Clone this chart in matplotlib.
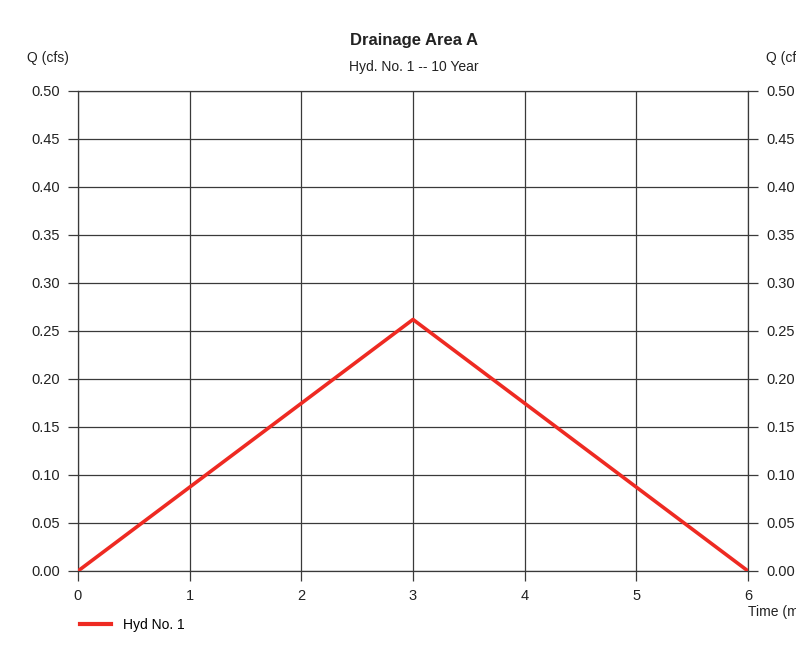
import matplotlib
matplotlib.use('Agg')
import matplotlib.pyplot as plt
from matplotlib.lines import Line2D

# hydrograph data
time_min = [0, 3, 6]
q_cfs = [0.0, 0.262, 0.0]
x_ticks = [0, 1, 2, 3, 4, 5, 6]
y_ticks = [0.00, 0.05, 0.10, 0.15, 0.20, 0.25, 0.30, 0.35, 0.40, 0.45, 0.50]

plt.rcParams['font.family'] = ['Liberation Sans', 'DejaVu Sans']

def main():
    fig = plt.figure(figsize=(7.96, 6.46), dpi=100)
    ax = fig.add_axes([78 / 796, 75 / 646, 670 / 796, 480 / 646])

    ax.plot(time_min, q_cfs, color='#ee2a22', lw=2.6, solid_capstyle='round', zorder=5)

    ax.set_xlim(0, 6)
    ax.set_ylim(0, 0.5)
    ax.set_xticks(x_ticks)
    ax.set_yticks(y_ticks)
    ax.set_yticklabels([f'{v:.2f}' for v in y_ticks])
    ax.grid(True, color='#3a3a3a', lw=0.9)
    ax.tick_params(axis='both', length=7, width=0.9, color='#3a3a3a', labelsize=10.5, labelcolor='#222222')
    ax.tick_params(axis='y', right=True, labelright=True, pad=6)
    ax.tick_params(axis='x', pad=6)
    for s in ax.spines.values():
        s.set_color('#3a3a3a')
        s.set_linewidth(0.9)

    #titles and axis labels
    fig.text(0.52, 1 - 41 / 646, 'Drainage Area A', ha='center', va='center', fontsize=12, fontweight='bold', color='#222222')
    fig.text(0.52, 1 - 67 / 646, 'Hyd. No. 1 -- 10 Year', ha='center', va='center', fontsize=10, color='#222222')
    fig.text(48 / 796, 1 - 58 / 646, 'Q (cfs)', ha='center', va='center', fontsize=10, color='#222222')
    fig.text(766 / 796, 1 - 58 / 646, 'Q (cfs)', ha='left', va='center', fontsize=10, color='#222222')
    fig.text(748 / 796, 1 - 612 / 646, 'Time (min)', ha='left', va='center', fontsize=10, color='#222222')

    #legend
    handle = Line2D([], [], color='#ee2a22', lw=3)
    fig.legend([handle], ['Hyd No. 1'], loc='center left', bbox_to_anchor=(67 / 796, 1 - 625 / 646),
               frameon=False, fontsize=10, handlelength=2.3, handletextpad=0.8)

    fig.savefig('out.png', dpi=100)

if __name__ == "__main__":
    main()
